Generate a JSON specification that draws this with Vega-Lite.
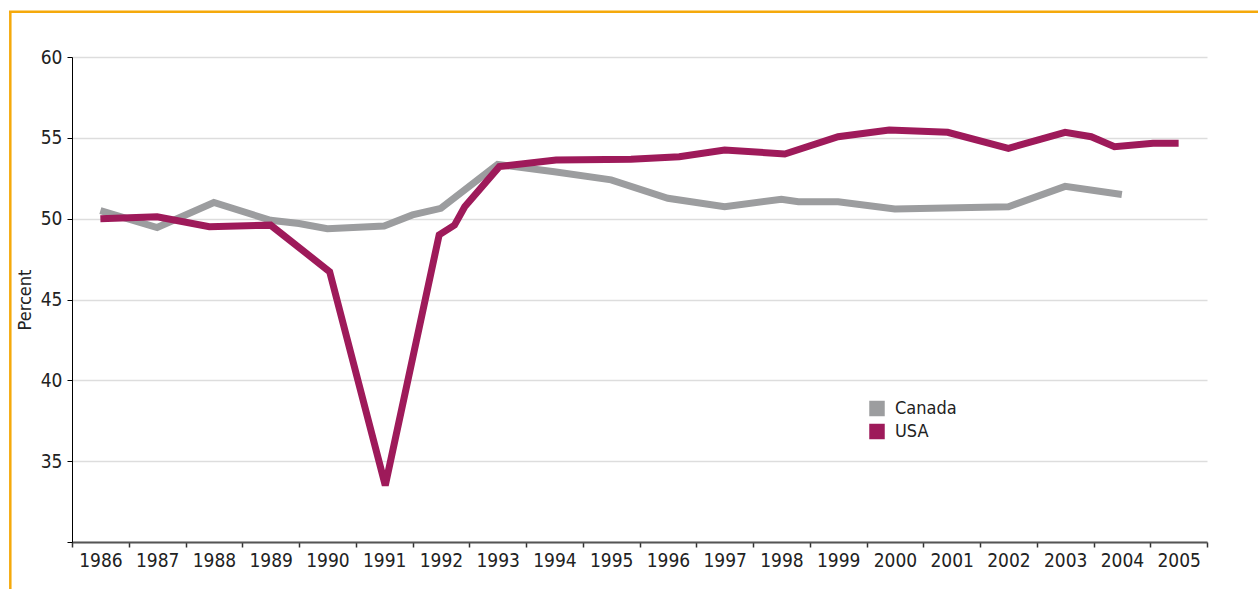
{
  "$schema": "https://vega.github.io/schema/vega-lite/v6.json",
  "width": 1135,
  "height": 485,
  "autosize": {"type": "none"},
  "padding": {"left": 72, "top": 57, "right": 51, "bottom": 47},
  "background": "white",
  "config": {
    "font": "'Liberation Sans Narrow', 'DejaVu Sans Condensed', Roboto, sans-serif",
    "view": {"stroke": null}
  },
  "datasets": {
    "series": [
      {"year": 1986, "country": "Canada", "value": 50.5},
      {"year": 1987, "country": "Canada", "value": 49.45},
      {"year": 1988, "country": "Canada", "value": 51.0},
      {"year": 1989, "country": "Canada", "value": 49.9},
      {"year": 1989.5, "country": "Canada", "value": 49.7},
      {"year": 1990, "country": "Canada", "value": 49.38},
      {"year": 1991, "country": "Canada", "value": 49.55},
      {"year": 1991.5, "country": "Canada", "value": 50.23},
      {"year": 1992, "country": "Canada", "value": 50.64},
      {"year": 1993, "country": "Canada", "value": 53.35},
      {"year": 1994, "country": "Canada", "value": 52.9},
      {"year": 1995, "country": "Canada", "value": 52.4},
      {"year": 1996, "country": "Canada", "value": 51.26},
      {"year": 1997, "country": "Canada", "value": 50.74},
      {"year": 1998, "country": "Canada", "value": 51.2},
      {"year": 1998.3, "country": "Canada", "value": 51.05},
      {"year": 1999, "country": "Canada", "value": 51.05},
      {"year": 2000, "country": "Canada", "value": 50.6},
      {"year": 2002, "country": "Canada", "value": 50.74},
      {"year": 2003, "country": "Canada", "value": 52.0},
      {"year": 2004, "country": "Canada", "value": 51.5},
      {"year": 1986, "country": "USA", "value": 50.0},
      {"year": 1987, "country": "USA", "value": 50.12},
      {"year": 1987.92, "country": "USA", "value": 49.5},
      {"year": 1989, "country": "USA", "value": 49.6},
      {"year": 1990.04, "country": "USA", "value": 46.72},
      {"year": 1991.02, "country": "USA", "value": 33.5},
      {"year": 1991.97, "country": "USA", "value": 49.0},
      {"year": 1992.24, "country": "USA", "value": 49.6},
      {"year": 1992.42, "country": "USA", "value": 50.74},
      {"year": 1993.03, "country": "USA", "value": 53.22},
      {"year": 1994.03, "country": "USA", "value": 53.63},
      {"year": 1995.35, "country": "USA", "value": 53.68},
      {"year": 1996.2, "country": "USA", "value": 53.83},
      {"year": 1997, "country": "USA", "value": 54.25},
      {"year": 1998.06, "country": "USA", "value": 54.0},
      {"year": 1999, "country": "USA", "value": 55.07},
      {"year": 1999.9, "country": "USA", "value": 55.49},
      {"year": 2000.93, "country": "USA", "value": 55.34},
      {"year": 2002, "country": "USA", "value": 54.35},
      {"year": 2003, "country": "USA", "value": 55.34},
      {"year": 2003.46, "country": "USA", "value": 55.07},
      {"year": 2003.87, "country": "USA", "value": 54.45},
      {"year": 2004.55, "country": "USA", "value": 54.66},
      {"year": 2005, "country": "USA", "value": 54.66}
    ]
  },
  "layer": [
    {
      "data": {"name": "series"},
      "mark": {"type": "line", "strokeWidth": 7, "strokeCap": "butt", "strokeJoin": "miter", "strokeMiterLimit": 2},
      "encoding": {
        "x": {
          "field": "year",
          "type": "quantitative",
          "scale": {"domain": [1985.5, 2005.5], "nice": false, "zero": false},
          "axis": {
            "title": null,
            "values": [1985.5, 1986.5, 1987.5, 1988.5, 1989.5, 1990.5, 1991.5, 1992.5, 1993.5, 1994.5, 1995.5, 1996.5, 1997.5, 1998.5, 1999.5, 2000.5, 2001.5, 2002.5, 2003.5, 2004.5, 2005.5],
            "labelExpr": "datum.value > 2005 ? '' : format(datum.value + 0.5, 'd')",
            "labelOffset": 28.4,
            "labelFlush": false,
            "labelOverlap": false,
            "labelBound": false,
            "labelFontSize": 19,
            "labelColor": "#222222",
            "labelPadding": 4,
            "grid": false,
            "domainColor": "#555555",
            "domainWidth": 2,
            "tickColor": "#333333",
            "tickWidth": 1.5,
            "tickSize": 5
          }
        },
        "y": {
          "field": "value",
          "type": "quantitative",
          "scale": {"domain": [30, 60], "nice": false, "zero": false},
          "axis": {
            "title": "Percent",
            "titleFontSize": 18,
            "titleFontWeight": "normal",
            "titleColor": "#222222",
            "titlePadding": 6,
            "values": [30, 35, 40, 45, 50, 55, 60],
            "labelExpr": "datum.value == 30 ? '' : datum.label",
            "labelFontSize": 19,
            "labelColor": "#222222",
            "labelPadding": 5,
            "grid": true,
            "gridColor": "#dddddd",
            "gridWidth": 1.5,
            "domainColor": "#000000",
            "domainWidth": 1,
            "tickColor": "#000000",
            "tickSize": 5
          }
        },
        "color": {
          "field": "country",
          "type": "nominal",
          "scale": {"domain": ["Canada", "USA"], "range": ["#9c9d9f", "#9e1a5a"]},
          "legend": {
            "title": null,
            "orient": "none",
            "legendX": 796,
            "legendY": 342.5,
            "padding": 0,
            "symbolType": "square",
            "symbolSize": 240,
            "symbolStrokeWidth": 0,
            "labelFontSize": 18,
            "labelColor": "#222222",
            "labelOffset": 9,
            "rowPadding": 5,
            "encode": {
              "symbols": {
                "update": {
                  "fill": {"scale": "color", "field": "value"},
                  "fillOpacity": {"value": 1},
                  "strokeWidth": {"value": 0}
                }
              }
            }
          }
        }
      }
    },
    {
      "data": {"values": [{}]},
      "mark": {"type": "rule", "color": "#f5a90b", "strokeWidth": 2.5},
      "encoding": {
        "x": {"datum": 1984.413, "type": "quantitative"},
        "y": {"datum": 62.8, "type": "quantitative"},
        "y2": {"datum": 24}
      }
    },
    {
      "data": {"values": [{}]},
      "mark": {"type": "rule", "color": "#f5a90b", "strokeWidth": 2.5},
      "encoding": {
        "x": {"datum": 1984.39, "type": "quantitative"},
        "x2": {"datum": 2008},
        "y": {"datum": 62.8, "type": "quantitative"}
      }
    }
  ]
}
